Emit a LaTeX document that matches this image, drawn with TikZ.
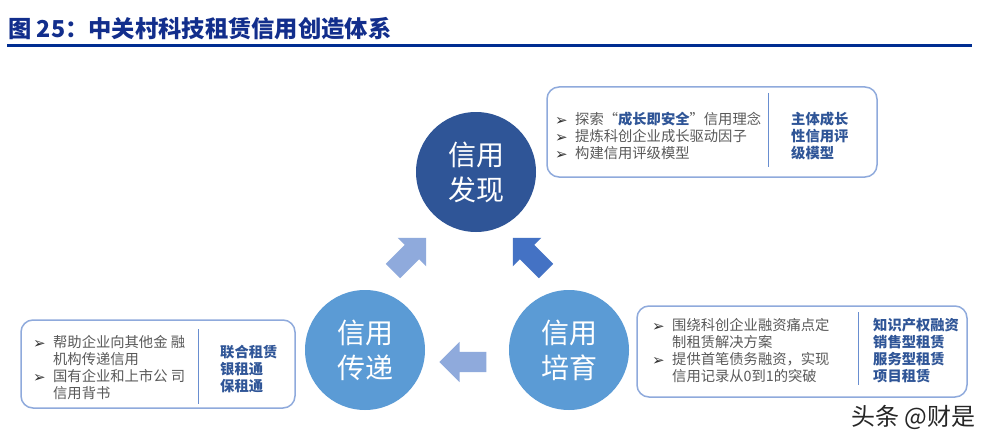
\documentclass[tikz,border=0pt]{standalone}
\usepackage{fontspec}
\setmainfont{Noto Sans CJK SC}
\newfontfamily\symfont{DejaVu Sans}
\usepackage{xcolor}
\usepackage{tikz}
\usetikzlibrary{shapes.arrows, positioning, calc}

\definecolor{titleblue}{RGB}{18,46,140}
\definecolor{ruleblue}{RGB}{0,45,145}
\definecolor{darkcircle}{RGB}{47,85,151}
\definecolor{lightcircle}{RGB}{91,155,213}
\definecolor{arrowlight}{RGB}{143,170,220}
\definecolor{arrowdark}{RGB}{68,114,196}
\definecolor{boxline}{RGB}{143,170,220}
\definecolor{bodygray}{RGB}{89,89,89}
\definecolor{keyblue}{RGB}{47,85,151}

\newcommand{\bul}{\makebox[20pt][l]{\raisebox{-0.5pt}{\symfont\fontsize{15}{15}\selectfont\color{black!80}➢}}}
\newcommand{\ind}{\hspace*{20pt}}

\begin{document}
\begin{tikzpicture}[
        x=1pt, y=-1pt,
        circ/.style={
            circle, minimum size=120pt, inner sep=0pt, text=white,
            align=center, font=\fontsize{28}{35}\selectfont
        },
        blockarr/.style={
            single arrow, draw=none, minimum height=47pt,
            single arrow head extend=10pt, inner xsep=0pt, inner ysep=10pt
        },
        infobox/.style={
            rectangle, rounded corners=12pt, draw=boxline, line width=1.5pt,
            fill=white, inner sep=0pt
        },
        bodytxt/.style={anchor=west, align=left, inner sep=0pt, text=bodygray,
            font=\fontsize{14.3}{17}\selectfont},
        keytxt/.style={anchor=west, align=left, inner sep=0pt, text=keyblue,
            font=\fontsize{14.3}{17}\selectfont\bfseries},
        divider/.style={draw=arrowdark!80, line width=1pt}
    ]
    \path[fill=white] (0,0) rectangle (999,444);
    \useasboundingbox (0,0) rectangle (999,444);

    % === Title ===
    \node[anchor=west, inner sep=0pt, text=titleblue,
        font=\fontsize{23.3}{26}\selectfont\bfseries] (title) at (8,28.5)
        {图 25：中关村科技租赁信用创造体系};
    \coordinate (ruleL) at (7,46);
    \coordinate (ruleR) at (972,46);
    \draw[ruleblue, line width=3pt] (ruleL) -- (ruleR);

    % === Circles ===
    \node[circ, fill=darkcircle] (find) at (476,172) {信用\\发现};
    \node[circ, fill=lightcircle] (pass) at (365,350) {信用\\传递};
    \node[circ, fill=lightcircle] (grow) at (569,350) {信用\\培育};

    % === Block arrows ===
    \node[blockarr, fill=arrowlight, rotate=45] (passfind) at (406,258) {};
    \node[blockarr, fill=arrowdark, rotate=135] (growfind) at (533,258) {};
    \node[blockarr, fill=arrowlight, rotate=180] (growpass) at (468,362) {};

    % === Box: discovery ===
    \node[infobox, minimum width=330pt, minimum height=90pt] (bFind) at (712,132) {};
    \draw[divider] (768,93) -- (768,167);
    \node[bodytxt] (bFindL) at (555,136)
        {\bul 探索“\textcolor{keyblue}{\bfseries 成长即安全}”信用理念\\
         \bul 提炼科创企业成长驱动因子\\
         \bul 构建信用评级模型};
    \node[keytxt] (bFindR) at (791,136) {主体成长\\性信用评\\级模型};

    % === Box: transfer ===
    \node[infobox, minimum width=274pt, minimum height=88pt] (bPass) at (158,364) {};
    \draw[divider] (198,329) -- (198,404);
    \node[bodytxt] (bPassL) at (33,368)
        {\bul 帮助企业向其他金 融\\
         \ind 机构传递信用\\
         \bul 国有企业和上市公 司\\
         \ind 信用背书};
    \node[keytxt] (bPassR) at (220,369) {联合租赁\\银租通\\保租通};

    % === Box: cultivation ===
    \node[infobox, minimum width=330pt, minimum height=91pt] (bGrow) at (802,351.5) {};
    \draw[divider] (858,312) -- (858,385);
    \node[bodytxt] (bGrowL) at (652,351)
        {\bul 围绕科创企业融资痛点定\\
         \ind 制租赁解决方案\\
         \bul 提供首笔债务融资，实现\\
         \ind 信用记录从0到1的突破};
    \node[keytxt] (bGrowR) at (873,351) {知识产权融资\\销售型租赁\\服务型租赁\\项目租赁};

    % === Watermark ===
    \node[anchor=west, inner sep=0pt, text=black!85,
        font=\fontsize{24}{26}\selectfont] (mark) at (851,417) {头条 @财是};

\end{tikzpicture}
\end{document}
